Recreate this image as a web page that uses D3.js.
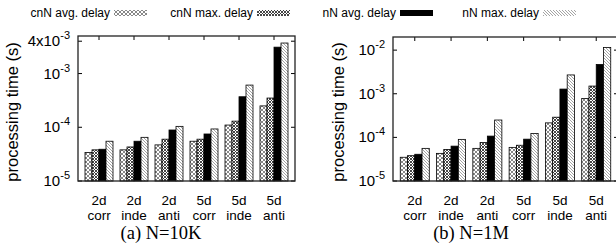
<!DOCTYPE html>
<html>
<head>
<meta charset="utf-8">
<script src="https://cdn.jsdelivr.net/npm/d3@7"></script>
<style>
  body { margin: 0; background: #fff; }
  svg { display: block; }
</style>
</head>
<body>
<div id="chart"></div>
<script>
//data
var dims = ['2d', '2d', '2d', '5d', '5d', '5d'];
var dists = ['corr', 'inde', 'anti', 'corr', 'inde', 'anti'];
var seriesNames = ['cnN avg. delay', 'cnN max. delay', 'nN avg. delay', 'nN max. delay'];

// N=10K
var cnnAvg10K = [3.4e-5, 3.8e-5, 4.7e-5, 5.5e-5, 1.1e-4, 2.5e-4];
var cnnMax10K = [3.8e-5, 4.3e-5, 6.0e-5, 6.0e-5, 1.3e-4, 3.5e-4];
var nnAvg10K  = [3.9e-5, 5.5e-5, 8.9e-5, 7.5e-5, 3.7e-4, 3.1e-3];
var nnMax10K  = [5.5e-5, 6.5e-5, 1.04e-4, 9.3e-5, 6.1e-4, 3.7e-3];

// N=1M
var cnnAvg1M = [3.5e-5, 4.3e-5, 5.6e-5, 5.9e-5, 2.15e-4, 7.8e-4];
var cnnMax1M = [3.8e-5, 5.3e-5, 7.6e-5, 6.6e-5, 2.9e-4, 1.5e-3];
var nnAvg1M  = [4.1e-5, 6.3e-5, 1.07e-4, 9.1e-5, 1.28e-3, 4.7e-3];
var nnMax1M  = [5.6e-5, 9.0e-5, 2.5e-4, 1.23e-4, 2.7e-3, 1.15e-2];

var ticks10K = [1e-5, 1e-4, 1e-3, 4e-3];
var tickLabels10K = [['10', '-5'], ['10', '-4'], ['10', '-3'], ['4x10', '-3']];
var ticks1M = [1e-5, 1e-4, 1e-3, 1e-2];
var tickLabels1M = [['10', '-5'], ['10', '-4'], ['10', '-3'], ['10', '-2']];

(function groupedBars(){

  var width = 616, height = 243;
  var sans = 'Liberation Sans, Arial, sans-serif';

  var svg = d3.select('#chart')
              .append('svg')
              .attr('width', width)
              .attr('height', height);

  //fill patterns, one per series
  var defs = svg.append('defs');

  var p0 = defs.append('pattern').attr('id', 'fill0')
      .attr('patternUnits', 'userSpaceOnUse').attr('width', 4).attr('height', 4);
  p0.append('rect').attr('width', 4).attr('height', 4).attr('fill', '#fff');
  p0.append('path').attr('d', 'M0,0L4,4M0,4L4,0M-1,1L1,-1M3,5L5,3M-1,3L1,5M3,-1L5,1')
      .attr('stroke', '#555').attr('stroke-width', 0.7);

  var p1 = defs.append('pattern').attr('id', 'fill1')
      .attr('patternUnits', 'userSpaceOnUse').attr('width', 3).attr('height', 3);
  p1.append('rect').attr('width', 3).attr('height', 3).attr('fill', '#fff');
  p1.append('path').attr('d', 'M0,0L3,3M0,3L3,0')
      .attr('stroke', '#333').attr('stroke-width', 0.9);

  var p3 = defs.append('pattern').attr('id', 'fill3')
      .attr('patternUnits', 'userSpaceOnUse').attr('width', 3).attr('height', 3);
  p3.append('rect').attr('width', 3).attr('height', 3).attr('fill', '#fff');
  p3.append('path').attr('d', 'M0,0L3,3M-1,2L1,4M2,-1L4,1')
      .attr('stroke', '#666').attr('stroke-width', 0.6);

  var fills = ['url(#fill0)', 'url(#fill1)', '#000', 'url(#fill3)'];

  //legend across the top: equal columns, text right-justified before the sample
  var legend = svg.append('g').attr('class', 'legend');
  seriesNames.forEach(function(name, i){
    var x0 = 110 + i * 143;
    legend.append('text')
          .attr('x', x0)
          .attr('y', 17)
          .attr('text-anchor', 'end')
          .attr('font-family', sans)
          .attr('font-size', 12)
          .text(name);
    legend.append('rect')
          .attr('x', x0 + 4)
          .attr('y', 10)
          .attr('width', 33)
          .attr('height', 6)
          .attr('fill', fills[i]);
  });

  function panel(opt){
    var x = d3.scaleLinear().domain([-0.6, 5.6]).range([opt.left, opt.right]);
    var y = d3.scaleLog().domain(opt.domain).range([opt.bottom, opt.top]);
    var series = opt.series;
    var bw = x(0.2) - x(0);

    var g = svg.append('g');

    //bars
    series.forEach(function(vals, s){
      g.selectAll('.bar' + s)
        .data(vals)
        .enter()
        .append('rect')
        .attr('x', function(d, i){ return x(i - 0.4 + s * 0.2); })
        .attr('y', function(d){ return y(d); })
        .attr('width', bw)
        .attr('height', function(d){ return y(opt.domain[0]) - y(d); })
        .attr('fill', fills[s])
        .attr('stroke', '#000')
        .attr('stroke-width', 0.8);
    });

    //y ticks, left and mirrored right
    opt.ticks.forEach(function(t, i){
      var ty = y(t);
      g.append('line').attr('x1', opt.left).attr('x2', opt.left + 4)
        .attr('y1', ty).attr('y2', ty).attr('stroke', '#000');
      g.append('line').attr('x1', opt.right).attr('x2', opt.right - 4)
        .attr('y1', ty).attr('y2', ty).attr('stroke', '#000');
      var lab = g.append('text')
        .attr('x', opt.left - 8)
        .attr('y', ty + 5)
        .attr('text-anchor', 'end')
        .attr('font-family', sans)
        .attr('font-size', 15);
      lab.append('tspan').text(opt.tickLabels[i][0]);
      lab.append('tspan').attr('dy', -7).attr('font-size', 11).text(opt.tickLabels[i][1]);
    });

    //x ticks and two-line category labels
    dims.forEach(function(d, i){
      var cx = x(i);
      g.append('line').attr('x1', cx).attr('x2', cx)
        .attr('y1', opt.top).attr('y2', opt.top + 4).attr('stroke', '#000');
      g.append('line').attr('x1', cx).attr('x2', cx)
        .attr('y1', opt.bottom).attr('y2', opt.bottom - 4).attr('stroke', '#000');
      g.append('text').attr('x', cx).attr('y', 205)
        .attr('text-anchor', 'middle').attr('font-family', sans).attr('font-size', 13.5)
        .text(d);
      g.append('text').attr('x', cx).attr('y', 220)
        .attr('text-anchor', 'middle').attr('font-family', sans).attr('font-size', 13.5)
        .text(dists[i]);
    });

    //frame
    g.append('rect')
      .attr('x', opt.left).attr('y', opt.top)
      .attr('width', opt.right - opt.left)
      .attr('height', opt.bottom - opt.top)
      .attr('fill', 'none')
      .attr('stroke', '#222')
      .attr('stroke-width', 1.3);

    //axis title
    g.append('text')
      .attr('transform', 'translate(' + opt.titleX + ',112) rotate(-90)')
      .attr('text-anchor', 'middle')
      .attr('font-family', sans)
      .attr('font-size', 16.5)
      .text('processing time (s)');

    //caption
    g.append('text')
      .attr('x', opt.captionX)
      .attr('y', 239)
      .attr('text-anchor', 'middle')
      .attr('font-family', 'Liberation Serif, Times New Roman, serif')
      .attr('font-size', 18.5)
      .text(opt.caption);
  }

  panel({
    left: 78, right: 295, top: 36, bottom: 181,
    domain: [1e-5, 5e-3],
    series: [cnnAvg10K, cnnMax10K, nnAvg10K, nnMax10K],
    ticks: ticks10K, tickLabels: tickLabels10K,
    titleX: 18, captionX: 161, caption: '(a) N=10K'
  });

  panel({
    left: 393, right: 618, top: 37, bottom: 181,
    domain: [1e-5, 2e-2],
    series: [cnnAvg1M, cnnMax1M, nnAvg1M, nnMax1M],
    ticks: ticks1M, tickLabels: tickLabels1M,
    titleX: 344, captionX: 471, caption: '(b) N=1M'
  });

})();
</script>
</body>
</html>
